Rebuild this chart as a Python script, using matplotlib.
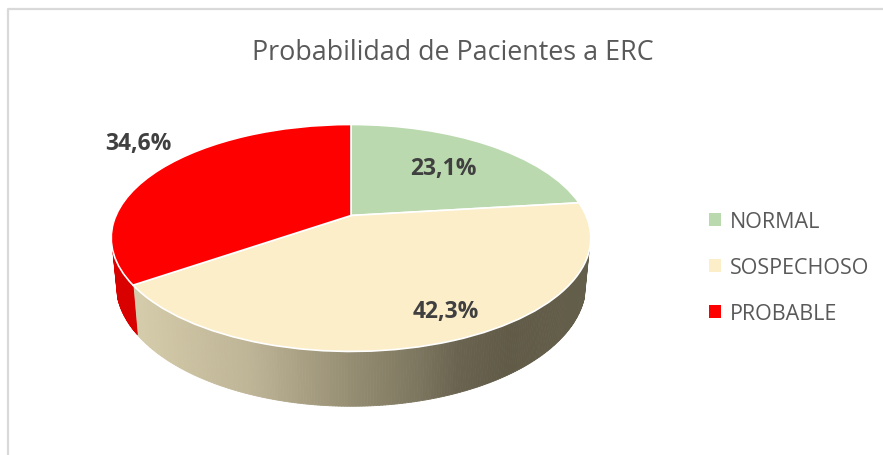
import numpy as np
import matplotlib
matplotlib.use("Agg")
import matplotlib.pyplot as plt
from matplotlib.collections import PolyCollection
from matplotlib.transforms import Transform

# values
labels = ["NORMAL", "SOSPECHOSO", "PROBABLE"]
values = [23.1, 42.3, 34.6]
pct_labels = ["23,1%", "42,3%", "34,6%"]
colors = ["#BBD9AE", "#FBEEC9", "#FF0000"]
title = "Probabilidad de Pacientes a ERC"

# where the pie sits, in pixels of the picture
cx, cy = 351, 216.5
rx, ry = 235, 109
tilt = 0.198
depth = 44

# shading of the side wall from left to right
shade_x = [111, 140, 250, 351, 420, 460, 510, 591]
shade_r = [212, 212, 190, 150, 125, 105, 96, 100]
shade_g = [203, 203, 180, 142, 118, 99, 90, 95]
shade_b = [170, 170, 150, 115, 95, 80, 71, 75]


def project(x, y):
    w = 1 + tilt * y
    return cx + rx * x / w, cy - ry * y / w


class Perspective(Transform):
    input_dims = 2
    output_dims = 2

    def transform_non_affine(self, values):
        values = np.asarray(values)
        px, py = project(values[:, 0], values[:, 1])
        return np.column_stack([px, py])


fig = plt.figure(figsize=(8.83, 4.56), dpi=100)
ax = fig.add_axes([0, 0, 1, 1])
plt.rcParams["font.family"] = ["Open Sans", "DejaVu Sans"]

wedges, _ = ax.pie(values, startangle=90, counterclock=False, colors=colors,
                   wedgeprops={"edgecolor": "white", "linewidth": 1.2})
for w in wedges:
    w.set_transform(Perspective() + ax.transData)
    w.set_zorder(3)

ax.set_aspect("auto")
ax.set_xlim(0, 883)
ax.set_ylim(456, 0)
ax.axis("off")

# side wall, one thin strip at a time
edges = np.cumsum([0] + values) / 100 * 2 * np.pi
for i in range(len(values)):
    t = np.linspace(edges[i], edges[i + 1], 260)
    x, y = np.sin(t), np.cos(t)
    keep = y < -0.3
    if keep.sum() < 2:
        continue
    x, y = x[keep], y[keep]
    top_x, top_y = project(x, y)
    drop = depth / (1 + tilt * y)
    low_x = cx + (top_x - cx) * 0.98
    low_y = top_y + drop
    quads = []
    fills = []
    for j in range(len(x) - 1):
        quads.append([(top_x[j], top_y[j]), (top_x[j + 1], top_y[j + 1]),
                      (low_x[j + 1], low_y[j + 1]), (low_x[j], low_y[j])])
        if colors[i] == "#FF0000":
            fills.append("#D90000")
        else:
            mid = top_x[j]
            fills.append((np.interp(mid, shade_x, shade_r) / 255,
                          np.interp(mid, shade_x, shade_g) / 255,
                          np.interp(mid, shade_x, shade_b) / 255))
    ax.add_collection(PolyCollection(quads, facecolors=fills, edgecolors=fills,
                                     linewidths=0.6, zorder=2))

# labels on the slices
label_x = [443, 446, 138]
label_y = [169, 312, 144]
for px, py, s in zip(label_x, label_y, pct_labels):
    ax.text(px, py, s, ha="center", va="center", fontsize=16.5, fontweight="bold",
            color="#404040", zorder=5)

ax.text(453, 53, title, ha="center", va="center", fontsize=19.4, color="#595959")

leg = ax.legend(wedges, labels, loc="center left", bbox_to_anchor=(0.803, 0.411),
                frameon=False, fontsize=15.5, labelcolor="#595959", handlelength=0.55,
                handleheight=0.55, handletextpad=0.42, labelspacing=1.15,
                borderpad=0, borderaxespad=0)
for h in leg.get_patches():
    h.set_linewidth(0)

# chart frame, only left and top edges show in the crop
ax.plot([8, 8, 883], [456, 10, 10], color="#D9D9D9", linewidth=1.6, zorder=1)

fig.savefig("out.png", dpi=100)
